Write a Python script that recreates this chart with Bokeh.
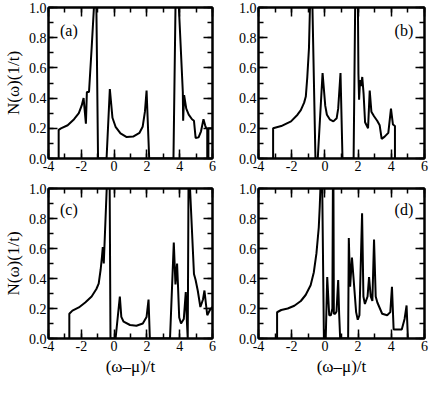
from bokeh.plotting import figure
from bokeh.models import (Range1d, SingleIntervalTicker, LinearAxis,
                          PrintfTickFormatter, CustomJSTickFormatter, Label)
from bokeh.layouts import column, row
from bokeh.embed import file_html
from bokeh.resources import INLINE

# ---------------- data ----------------
a_x = [-3.38, -3.38, -3.24, -2.83, -2.44, -2.15, -1.98, -1.86, -1.72, -1.66, -1.53,
       -1.37, -1.23, -1.15, -1.08, -0.98, -0.46, -0.26, -0.10, 0.09, 0.39, 0.77,
       1.16, 1.55, 1.74, 1.88, 1.98, 2.14, 3.62, 3.78, 3.86, 3.93, 3.95, 4.19,
       4.21, 4.27, 4.40, 4.55, 4.75, 4.87, 4.97, 5.15, 5.30, 5.45, 5.55, 5.62,
       5.68, 5.68, 5.75, 5.75, 6.0]
a_y = [0.0, 0.19, 0.20, 0.22, 0.26, 0.30, 0.35, 0.40, 0.23, 0.44, 0.44,
       0.73, 1.0, 1.4, 1.0, 0.0, 0.0, 0.46, 0.27, 0.21, 0.167, 0.142,
       0.145, 0.17, 0.21, 0.31, 0.45, 0.0, 0.0, 1.3, 1.1, 1.3, 1.0, 0.44,
       0.25, 0.42, 0.33, 0.29, 0.26, 0.25, 0.136, 0.14, 0.18, 0.26, 0.22, 0.20,
       0.20, 0.0, 0.0, 0.20, 0.20]

b_x = [-3.12, -3.12, -2.63, -2.04, -1.65, -1.45, -1.25, -1.15, -1.06, -0.96,
       -0.90, -0.82, -0.75, -0.57, -0.43, -0.14, 0.02, 0.12, 0.31, 0.51, 0.71,
       0.80, 0.94, 1.06, 1.73, 1.85, 1.92, 1.97, 2.02, 2.06, 2.12, 2.18, 2.25,
       2.33, 2.42, 2.60, 2.70, 2.80, 2.96, 3.15, 3.30, 3.42, 3.60, 3.82, 3.98,
       4.10, 4.22, 4.22]
b_y = [0.0, 0.20, 0.215, 0.246, 0.29, 0.32, 0.37, 0.41, 0.54, 0.73,
       1.0, 1.4, 1.0, 0.0, 0.0, 0.566, 0.35, 0.29, 0.257, 0.246, 0.267,
       0.33, 0.566, 0.0, 0.0, 1.3, 1.2, 1.3, 0.56, 0.39, 0.52, 0.48, 0.54,
       0.43, 0.24, 0.20, 0.45, 0.31, 0.28, 0.25, 0.22, 0.13, 0.145, 0.17, 0.33,
       0.225, 0.215, 0.0]

c_x = [-2.73, -2.73, -2.54, -2.15, -1.76, -1.37, -1.08, -0.94, -0.82, -0.74,
       -0.69, -0.63, -0.45, -0.35, -0.27, -0.22, 0.09, 0.35, 0.44, 0.58, 0.97,
       1.36, 1.75, 1.98, 2.10, 2.18, 3.41, 3.64, 3.74, 3.84, 3.90, 3.97, 4.08,
       4.25, 4.37, 4.44, 4.49, 4.55, 4.60, 4.63, 4.87, 4.97, 5.10, 5.26, 5.42,
       5.51, 5.60, 5.68, 5.84, 6.0]
c_y = [0.0, 0.165, 0.186, 0.207, 0.24, 0.28, 0.33, 0.366, 0.46, 0.545,
       0.61, 0.50, 1.0, 1.4, 1.0, 0.0, 0.0, 0.28, 0.144, 0.112, 0.09,
       0.085, 0.10, 0.144, 0.26, 0.0, 0.0, 0.64, 0.36, 0.50, 0.34, 0.14, 0.10,
       0.13, 0.31, 0.11, 0.0, 1.3, 1.4, 1.0, 0.43, 0.39, 0.32, 0.21, 0.26,
       0.32, 0.23, 0.155, 0.19, 0.21]

d_x = [-2.88, -2.88, -2.63, -2.24, -1.84, -1.45, -1.16, -0.86, -0.67, -0.51,
       -0.37, -0.31, -0.27, -0.22, -0.16, -0.06, 0.05, 0.14, 0.26, 0.36, 0.45,
       0.50, 0.54, 0.62, 0.70, 0.80, 0.86, 0.92, 1.40, 1.44, 1.52, 1.63, 1.72,
       1.88, 1.98, 2.08, 2.24, 2.32, 2.41, 2.57, 2.66, 2.76, 2.86, 2.96, 3.06,
       3.16, 3.45, 3.75, 3.94, 4.04, 4.14, 4.63, 4.80, 4.92, 5.00]
d_y = [0.0, 0.175, 0.19, 0.20, 0.218, 0.25, 0.29, 0.355, 0.44, 0.567,
       0.74, 0.88, 1.0, 1.4, 1.0, 0.0, 0.0, 0.41, 0.155, 0.155, 0.20,
       1.5, 0.165, 0.165, 0.18, 0.39, 0.16, 0.0, 0.0, 0.67, 0.345, 0.54, 0.41,
       0.176, 0.125, 0.155, 0.835, 0.28, 0.23, 0.28, 0.41, 0.28, 0.25, 0.66, 0.28,
       0.24, 0.165, 0.155, 0.176, 0.345, 0.06, 0.06, 0.13, 0.22, 0.0]

panel_tags = ["(a)", "(b)", "(c)", "(d)"]
tag_x = [-3.3, 4.2, -3.3, 4.2]
tag_y = [0.85, 0.85, 0.86, 0.86]

x_ticks_step = 2
y_ticks_step = 0.2
x_title = "(\u03c9\u2013\u03bc)/t"
y_title = "N(\u03c9)(1/t)"

FONT = "Liberation Serif"


def style_axis(ax, labels=True):
    ax.axis_line_width = 2
    ax.axis_line_color = "black"
    ax.major_tick_in = 9
    ax.major_tick_out = 0
    ax.minor_tick_in = 5
    ax.minor_tick_out = 0
    ax.major_tick_line_width = 1.5
    ax.minor_tick_line_width = 1.5
    ax.major_tick_line_color = "black"
    ax.minor_tick_line_color = "black"
    if labels:
        ax.major_label_text_font = FONT
        ax.major_label_text_font_size = "14px"
        ax.major_label_text_color = "black"
        ax.major_label_standoff = 2
        ax.axis_label_text_font = FONT
        ax.axis_label_text_font_size = "17px"
        ax.axis_label_text_font_style = "normal"
        ax.axis_label_text_color = "black"
        ax.axis_label_standoff = 3
    else:
        ax.formatter = CustomJSTickFormatter(code="return ''")
        ax.major_label_text_font_size = "0px"
        ax.major_label_standoff = 0


def make_panel(xs, ys, k, left_col, bottom_row):
    frame_w, frame_h = 166, 151
    bl = 46 if left_col else 40
    br = 6 if left_col else 7
    bt = 7 if not bottom_row else 8
    bb = 22 if not bottom_row else 39
    p = figure(width=bl + frame_w + br, height=bt + frame_h + bb,
               x_range=Range1d(-4, 6), y_range=Range1d(0, 1),
               output_backend="svg", toolbar_location=None,
               min_border_left=bl, min_border_right=br,
               min_border_top=bt, min_border_bottom=bb)
    p.xgrid.visible = False
    p.ygrid.visible = False
    p.outline_line_color = "black"
    p.outline_line_width = 2
    p.background_fill_color = "white"
    p.border_fill_color = "white"

    p.xaxis.ticker = SingleIntervalTicker(interval=x_ticks_step, num_minor_ticks=2)
    p.xaxis.formatter = PrintfTickFormatter(format="%d")
    p.yaxis.ticker = SingleIntervalTicker(interval=y_ticks_step, num_minor_ticks=2)
    p.yaxis.formatter = PrintfTickFormatter(format="%.1f")
    for ax in p.xaxis + p.yaxis:
        style_axis(ax, True)
    if bottom_row:
        p.xaxis.axis_label = x_title
    if left_col:
        p.yaxis.axis_label = y_title

    top = LinearAxis(ticker=SingleIntervalTicker(interval=x_ticks_step, num_minor_ticks=2))
    style_axis(top, False)
    p.add_layout(top, "above")
    right = LinearAxis(ticker=SingleIntervalTicker(interval=y_ticks_step, num_minor_ticks=2))
    style_axis(right, False)
    p.add_layout(right, "right")

    p.line(xs, ys, line_color="black", line_width=2)
    p.add_layout(Label(x=tag_x[k], y=tag_y[k], text=panel_tags[k],
                       text_font=FONT, text_font_size="16px",
                       text_baseline="middle", text_color="black"))
    return p


pa = make_panel(a_x, a_y, 0, True, False)
pb = make_panel(b_x, b_y, 1, False, False)
pc = make_panel(c_x, c_y, 2, True, True)
pd = make_panel(d_x, d_y, 3, False, True)

layout = column(row(pa, pb), row(pc, pd))
open("out.html", "w").write(file_html(layout, INLINE))
